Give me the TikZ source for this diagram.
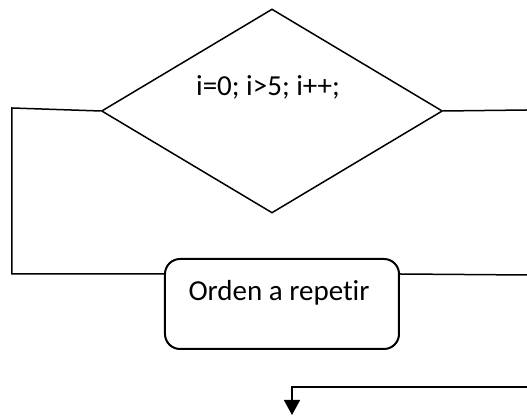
\documentclass[tikz,border=0pt]{standalone}
\usepackage{fontspec}
\setmainfont{Carlito}[Ligatures=NoCommon]
\usetikzlibrary{shapes.geometric,arrows.meta,calc}

\tikzset{
  decision/.style={draw, diamond, line width=.75pt, minimum width=170.5pt, minimum height=102pt, inner sep=0pt},
  paso/.style={draw, rectangle, rounded corners=7.5pt, line width=1pt, minimum width=117pt, minimum height=45pt, inner sep=0pt},
  flecha/.style={line width=.75pt}
}

\begin{document}
\begin{tikzpicture}[x=0.5pt, y=-0.5pt, font=\fontsize{14.5}{17}\selectfont]
  \useasboundingbox (0,0) rectangle (527,416);

  %% bucle for
  \node [decision] (cond) at (272,111) {};
  \node at ($(cond.center)+(-4,-24)$) {i=0; i>5; i++;};

  %% cuerpo
  \node [paso] (body) at (282,304) {};
  \node at ($(body.center)+(-3,-11)$) {Orden a repetir};

  \coordinate (lft) at (12,108);
  \coordinate (rgt) at (527,110);
  \coordinate (brgt) at (527,275);
  \coordinate (ret) at (527,387);
  \coordinate (sal) at (292,415);

  \draw [flecha] (cond.west) -- (lft) |- ($(body.north west)+(0,16)$);
  \draw [flecha] (cond.east) -- (rgt);
  \draw [flecha] ($(body.north east)+(0,16)$) -- (brgt);
  \draw [flecha, -{Triangle[length=7.5pt, width=8pt]}] (ret) -| (sal);

\end{tikzpicture}
\end{document}
